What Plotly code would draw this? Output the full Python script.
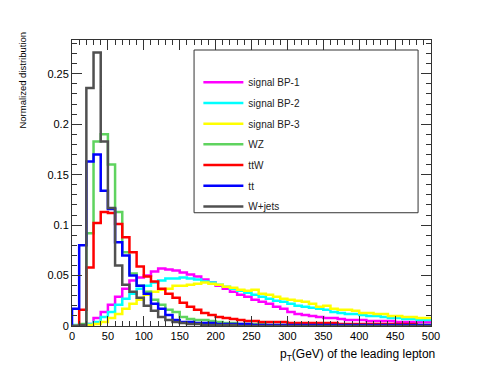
import plotly.graph_objects as go

# bin edges in GeV (10 GeV bins, 0-500)
bin_edges = list(range(0, 510, 10))

# normalized distributions, one value per bin (50 bins)
bp1 = [0.000, 0.000, 0.002, 0.008, 0.014, 0.021, 0.029, 0.037, 0.045, 0.048,
       0.050, 0.054, 0.057, 0.056, 0.055, 0.053, 0.051, 0.049, 0.046, 0.043,
       0.040, 0.037, 0.034, 0.031, 0.029, 0.026, 0.024, 0.022, 0.019, 0.017,
       0.014, 0.012, 0.011, 0.010, 0.009, 0.008, 0.008, 0.007, 0.006, 0.006,
       0.006, 0.005, 0.005, 0.005, 0.005, 0.004, 0.004, 0.004, 0.004, 0.004]
bp2 = [0.001, 0.001, 0.002, 0.004, 0.009, 0.014, 0.021, 0.027, 0.032, 0.037,
       0.040, 0.043, 0.045, 0.047, 0.047, 0.048, 0.047, 0.046, 0.044, 0.043,
       0.041, 0.039, 0.037, 0.035, 0.033, 0.031, 0.029, 0.027, 0.025, 0.024,
       0.022, 0.020, 0.019, 0.018, 0.017, 0.016, 0.014, 0.013, 0.012, 0.012,
       0.011, 0.010, 0.010, 0.009, 0.008, 0.008, 0.007, 0.007, 0.006, 0.006]
bp3 = [0.000, 0.000, 0.001, 0.002, 0.004, 0.008, 0.012, 0.017, 0.022, 0.026,
       0.031, 0.034, 0.036, 0.037, 0.040, 0.040, 0.041, 0.042, 0.043, 0.042,
       0.041, 0.039, 0.038, 0.036, 0.035, 0.036, 0.032, 0.031, 0.029, 0.027,
       0.026, 0.025, 0.024, 0.022, 0.019, 0.020, 0.017, 0.016, 0.016, 0.015,
       0.013, 0.013, 0.012, 0.012, 0.010, 0.010, 0.009, 0.009, 0.008, 0.008]
wz = [0.000, 0.002, 0.092, 0.183, 0.190, 0.160, 0.113, 0.073, 0.052, 0.040,
      0.034, 0.026, 0.021, 0.016, 0.014, 0.009, 0.007, 0.006, 0.006, 0.005,
      0.004, 0.003, 0.003, 0.002, 0.002, 0.002, 0.002, 0.001, 0.001, 0.001,
      0.001, 0.001, 0.001, 0.001, 0.001, 0.000, 0.000, 0.000, 0.000, 0.000,
      0.000, 0.000, 0.000, 0.000, 0.000, 0.000, 0.000, 0.000, 0.000, 0.000]
ttw = [0.000, 0.016, 0.058, 0.102, 0.113, 0.112, 0.101, 0.088, 0.073, 0.059,
       0.049, 0.044, 0.037, 0.032, 0.028, 0.023, 0.019, 0.016, 0.013, 0.011,
       0.009, 0.008, 0.007, 0.006, 0.005, 0.005, 0.004, 0.004, 0.004, 0.004,
       0.003, 0.003, 0.003, 0.003, 0.003, 0.003, 0.003, 0.002, 0.002, 0.002,
       0.002, 0.002, 0.002, 0.002, 0.002, 0.002, 0.002, 0.002, 0.001, 0.001]
tt = [0.017, 0.080, 0.163, 0.170, 0.134, 0.116, 0.083, 0.070, 0.050, 0.040,
      0.032, 0.022, 0.017, 0.011, 0.006, 0.004, 0.004, 0.003, 0.003, 0.003,
      0.002, 0.002, 0.002, 0.002, 0.002, 0.001, 0.001, 0.001, 0.001, 0.001,
      0.001, 0.001, 0.001, 0.001, 0.001, 0.001, 0.001, 0.001, 0.001, 0.001,
      0.001, 0.001, 0.001, 0.001, 0.001, 0.001, 0.001, 0.001, 0.001, 0.001]
wjets = [0.000, 0.001, 0.236, 0.271, 0.183, 0.117, 0.060, 0.041, 0.034, 0.028,
         0.020, 0.015, 0.009, 0.006, 0.004, 0.003, 0.002, 0.002, 0.001, 0.001,
         0.001, 0.001, 0.001, 0.000, 0.000, 0.000, 0.000, 0.000, 0.000, 0.000,
         0.000, 0.000, 0.000, 0.000, 0.000, 0.000, 0.000, 0.000, 0.000, 0.000,
         0.000, 0.000, 0.000, 0.000, 0.000, 0.000, 0.000, 0.000, 0.000, 0.000]

names = ["signal BP-1", "signal BP-2", "signal BP-3", "WZ", "ttW", "tt", "W+jets"]
series = [bp1, bp2, bp3, wz, ttw, tt, wjets]
colors = ["#ff00ff", "#00ffff", "#ffff00", "#5fd35f", "#ff0000", "#0000ff", "#505050"]

FONT = "Liberation Sans, Arial, sans-serif"

fig = go.Figure()
for name, vals, color in zip(names, series, colors):
    # step outline like a ROOT "HIST" draw
    fig.add_trace(go.Scatter(x=[bin_edges[0]] + bin_edges,
                             y=[0] + vals + [vals[-1]],
                             mode="lines", line_shape="hv",
                             line=dict(color=color, width=2.5),
                             name=name, legendgroup=name))

# page body adds an 8px offset, so the figure is 8px smaller than the window
fig.update_layout(
    width=472, height=374,
    margin=dict(l=64, r=49, t=32, b=56),
    plot_bgcolor="white", paper_bgcolor="white",
    font=dict(family=FONT, size=11, color="black"),
    showlegend=True,
    legend=dict(x=0.352, y=0.903, xanchor="left", yanchor="top",
                bgcolor="rgba(0,0,0,0)", borderwidth=0,
                font=dict(family=FONT, size=10, color="#222"),
                tracegroupgap=1.7, itemwidth=40),
)

axis_common = dict(showline=True, linecolor="#333", linewidth=1, mirror="allticks",
                   ticks="inside", tickcolor="#333", showgrid=False, zeroline=False)

fig.update_xaxes(range=[0, 500], dtick=50, tick0=0, ticklen=10,
                 minor=dict(ticks="inside", dtick=10, ticklen=5, tickcolor="#333", showgrid=False),
                 **axis_common)
fig.update_yaxes(range=[0, 0.2835], dtick=0.05, tick0=0, ticklen=10,
                 minor=dict(ticks="inside", dtick=0.01, ticklen=5, tickcolor="#333", showgrid=False),
                 **axis_common)

# legend frame
fig.add_shape(type="rect", xref="paper", yref="paper",
              x0=0.340, x1=0.964, y0=0.396, y1=0.965,
              line=dict(color="#333", width=1), fillcolor="white", layer="below")

fig.add_annotation(text="p<sub>T</sub>(GeV) of the leading lepton",
                   xref="paper", yref="paper", x=1.017, y=-0.101,
                   xanchor="right", yanchor="middle", showarrow=False,
                   font=dict(family=FONT, size=12, color="black"))
fig.add_annotation(text="Normalized distribution", textangle=-90,
                   xref="paper", yref="paper", x=-0.139, y=1.035,
                   xanchor="center", yanchor="top", showarrow=False,
                   font=dict(family=FONT, size=9.5, color="black"))

fig.write_html("out.html")
